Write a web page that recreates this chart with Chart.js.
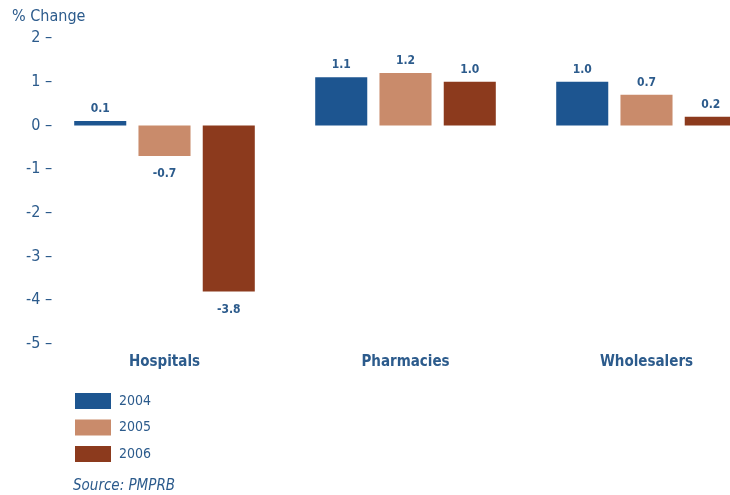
<!DOCTYPE html>
<html>
<head>
<meta charset="utf-8">
<script src="https://cdn.jsdelivr.net/npm/chart.js@4/dist/chart.umd.min.js"></script>
<style>
  html, body { margin: 0; padding: 0; background: #fff; overflow: hidden; }
  #wrap { width: 767px; height: 495px; }
</style>
</head>
<body>
<div id="wrap"><canvas id="chart" width="767" height="495"></canvas></div>
<script>
// Price change by customer class
const categories = ["Hospitals", "Pharmacies", "Wholesalers"];
const years = ["2004", "2005", "2006"];
const values2004 = [0.1, 1.1, 1.0];
const values2005 = [-0.7, 1.2, 0.7];
const values2006 = [-3.8, 1.0, 0.2];
const yTicks = [2, 1, 0, -1, -2, -3, -4, -5];
const sourceNote = "Source: PMPRB";
const axisTitle = "% Change";

const colors = ["#1d5590", "#c98b6b", "#8c3a1d"];
const textBlue = "#2c5b8c";
const fontFamily = "'DejaVu Sans Condensed', 'Liberation Sans', sans-serif";

// Value labels above positive bars and below negative ones
const valueLabels = {
  id: "valueLabels",
  afterDatasetsDraw(chart) {
    const ctx = chart.ctx;
    ctx.save();
    ctx.fillStyle = textBlue;
    ctx.font = "bold 12px " + fontFamily;
    ctx.textAlign = "center";
    ctx.textBaseline = "middle";
    chart.data.datasets.forEach((ds, i) => {
      const meta = chart.getDatasetMeta(i);
      meta.data.forEach((bar, j) => {
        const v = ds.data[j];
        const y = v >= 0 ? bar.y - 12 : bar.y + 18;
        ctx.fillText(v.toFixed(1), bar.x, y);
      });
    });
    ctx.restore();
  },
};

// Axis title, stacked legend and source line
const extras = {
  id: "extras",
  afterDraw(chart) {
    const ctx = chart.ctx;
    ctx.save();
    ctx.fillStyle = textBlue;
    ctx.textBaseline = "middle";
    ctx.font = "16px " + fontFamily;
    ctx.fillText(axisTitle, 12, 17);

    ctx.font = "14px " + fontFamily;
    chart.data.datasets.forEach((ds, i) => {
      const y = 401 + i * 26.5;
      ctx.fillStyle = ds.backgroundColor;
      ctx.fillRect(75, y - 8, 36, 16);
      ctx.fillStyle = textBlue;
      ctx.fillText(ds.label, 119, y);
    });

    ctx.font = "italic 15px " + fontFamily;
    ctx.fillText(sourceNote, 73, 486);
    ctx.restore();
  },
};

new Chart(document.getElementById("chart"), {
  type: "bar",
  data: {
    labels: categories,
    datasets: [values2004, values2005, values2006].map((vals, i) => ({
      label: years[i],
      data: vals,
      backgroundColor: colors[i],
      borderWidth: 0,
      categoryPercentage: 0.8,
      barPercentage: 0.81,
    })),
  },
  options: {
    responsive: false,
    animation: false,
    layout: { padding: { top: 38, right: 0, left: 0, bottom: 0 } },
    plugins: {
      legend: { display: false },
      tooltip: { enabled: false },
    },
    scales: {
      x: {
        grid: { display: false, drawTicks: false },
        border: { display: false },
        ticks: {
          color: textBlue,
          padding: 9,
          font: { family: fontFamily, size: 15, weight: "bold" },
        },
        afterFit(scale) { scale.height = 151; },
      },
      y: {
        min: -5,
        max: 2,
        grid: { display: false, drawTicks: false },
        border: { display: false },
        afterBuildTicks(scale) {
          scale.ticks = yTicks.map((v) => ({ value: v }));
        },
        ticks: {
          color: textBlue,
          mirror: true,
          crossAlign: "far",
          padding: -18,
          font: { family: fontFamily, size: 16 },
          callback: (v) => v + " \u2013",
        },
        afterFit(scale) { scale.width = 44; },
      },
    },
  },
  plugins: [valueLabels, extras],
});
</script>
</body>
</html>
